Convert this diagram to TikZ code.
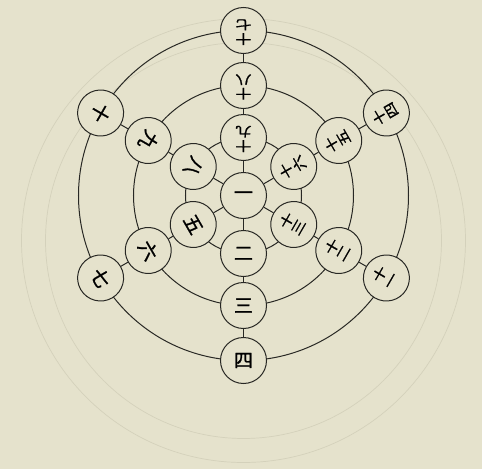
\documentclass[tikz,border=0pt]{standalone}
\usepackage{fontspec}
\usepackage{graphicx}
\newfontfamily\cjk[FakeBold=1.2]{Noto Sans CJK SC}
\definecolor{paper}{RGB}{229,226,204}
\definecolor{ink}{RGB}{40,40,36}
\definecolor{ghost}{RGB}{212,209,187}
\newcommand{\twochar}[2]{\scalebox{1}[0.8]{\begin{tabular}{@{}c@{}}#1\\[0pt]#2\end{tabular}}}
\begin{document}
\begin{tikzpicture}[x=1pt,y=1pt,
  num/.style={circle,draw=ink,line width=1pt,fill=paper,minimum size=46pt,inner sep=0pt,
    font=\cjk\fontsize{19}{19}\selectfont},
  two/.style={num,font=\cjk\fontsize{16}{16}\selectfont},
  ring/.style={draw=ink,line width=1pt},
  faint/.style={draw=ghost,line width=0.7pt}]
\fill[paper] (-243.5,-273.5) rectangle (238.5,195.5);
\useasboundingbox (-243.5,-273.5) rectangle (238.5,195.5);
% faint show-through from the reverse of the page
\draw[faint] (0,-45) circle (222);
\draw[faint] (0,-45) circle (198);
% rings
\draw[ring] (0,0) circle (58);
\draw[ring] (0,0) circle (110);
\draw[ring] (0,0) circle (165);
% centre
\node[num] (c) at (0,0) {一};
% ring 1
\node[num] (a270) at (270:58) {二};
\node[two,rotate=180] (a90) at (90:58) {\twochar{十}{九}};
\node[num,rotate=-120] (a150) at (150:58) {八};
\node[num,rotate=-60] (a210) at (210:58) {五};
\node[two,rotate=120] (a30) at (30:58) {\twochar{十}{六}};
\node[two,rotate=60] (a330) at (330:58) {\twochar{十}{三}};
% ring 2
\node[num] (b270) at (270:110) {三};
\node[two,rotate=180] (b90) at (90:110) {\twochar{十}{八}};
\node[num,rotate=-120] (b150) at (150:110) {九};
\node[num,rotate=-60] (b210) at (210:110) {六};
\node[two,rotate=120] (b30) at (30:110) {\twochar{十}{五}};
\node[two,rotate=60] (b330) at (330:110) {\twochar{十}{二}};
% ring 3
\node[num] (d270) at (270:165) {四};
\node[two,rotate=180] (d90) at (90:165) {\twochar{十}{七}};
\node[num,rotate=-120] (d150) at (150:165) {十};
\node[num,rotate=-60] (d210) at (210:165) {七};
\node[two,rotate=120] (d30) at (30:165) {\twochar{十}{四}};
\node[two,rotate=60] (d330) at (330:165) {\twochar{十}{一}};
% spokes
\foreach \t in {30,90,150,210,270,330}{
  \draw[ring] (c) -- (a\t);
  \draw[ring] (a\t) -- (b\t);
  \draw[ring] (b\t) -- (d\t);
}
\end{tikzpicture}
\end{document}
